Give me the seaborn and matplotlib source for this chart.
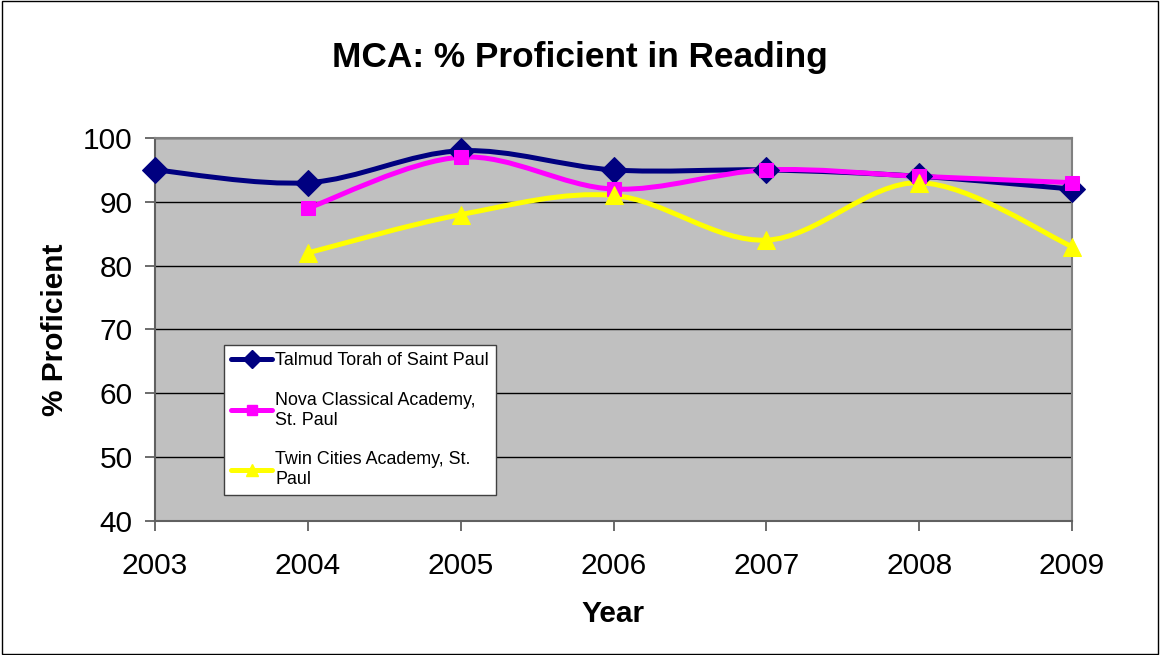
"""
MCA reading proficiency, three St. Paul schools (2003-2009)
Excel-style smoothed line chart redrawn with seaborn / matplotlib.
"""

import numpy as np
import pandas as pd
import matplotlib
matplotlib.use("Agg")
import matplotlib.pyplot as plt
import seaborn as sns
from matplotlib.path import Path
from matplotlib.patches import PathPatch, Rectangle
from matplotlib.lines import Line2D


# DATA

YEARS = [2003, 2004, 2005, 2006, 2007, 2008, 2009]

TALMUD = [95, 93, 98, 95, 95, 94, 92]
NOVA = [None, 89, 97, 92, 95, 94, 93]
TWIN = [None, 82, 88, 91, 84, 93, 83]

SCHOOLS = [
    "Talmud Torah of Saint Paul",
    "Nova Classical Academy, St. Paul",
    "Twin Cities Academy, St. Paul",
]
LEGEND_LABELS = [
    "Talmud Torah of Saint Paul",
    "Nova Classical Academy,\nSt. Paul",
    "Twin Cities Academy, St.\nPaul",
]

Y_TICKS = [40, 50, 60, 70, 80, 90, 100]


# STYLE

STYLES = {
    SCHOOLS[0]: {"color": "#000080", "marker": "D", "ms": 13},
    SCHOOLS[1]: {"color": "#FF00FF", "marker": "s", "ms": 9.5},
    SCHOOLS[2]: {"color": "#FFFF00", "marker": "^", "ms": 12.5},
}
LINE_W = 3.6

sns.set_style("white")
plt.rcParams["font.family"] = ["Liberation Sans", "DejaVu Sans"]
plt.rcParams["text.color"] = "black"
plt.rcParams["axes.labelcolor"] = "black"
plt.rcParams["xtick.color"] = "black"
plt.rcParams["ytick.color"] = "black"


def smooth_path(x, y):
    """Courbe lissée type Excel : Bézier cubique, tangentes à 1/6."""
    pts = np.column_stack([x, y]).astype(float)
    n = len(pts)
    verts = [pts[0]]
    codes = [Path.MOVETO]
    for i in range(n - 1):
        p0 = pts[i - 1] if i > 0 else pts[i]
        p1 = pts[i]
        p2 = pts[i + 1]
        p3 = pts[i + 2] if i + 2 < n else pts[i + 1]
        c1 = p1 + (p2 - p0) / 6.0
        c2 = p2 - (p3 - p1) / 6.0
        verts += [c1, c2, p2]
        codes += [Path.CURVE4] * 3
    return Path(verts, codes)


# long-form table for seaborn
df = pd.DataFrame({
    "Year": YEARS * 3,
    "Pct": TALMUD + NOVA + TWIN,
    "School": [s for s in SCHOOLS for _ in YEARS],
}).dropna()

fig = plt.figure(figsize=(11.6, 6.55), dpi=100)
ax = fig.add_axes([155 / 1160, 1 - 521 / 655, (1072 - 155) / 1160, (521 - 138) / 655])
ax.set_facecolor("#C0C0C0")

# lignes lissées
for school in SCHOOLS:
    sub = df[df["School"] == school]
    patch = PathPatch(smooth_path(sub["Year"].values, sub["Pct"].values),
                      facecolor="none", edgecolor=STYLES[school]["color"],
                      lw=LINE_W, capstyle="round", joinstyle="round", zorder=3)
    ax.add_patch(patch)

# marqueurs
for school in SCHOOLS:
    sub = df[df["School"] == school]
    st = STYLES[school]
    sns.lineplot(data=sub, x="Year", y="Pct", ax=ax, linestyle="none",
                 marker=st["marker"], markersize=st["ms"], color=st["color"],
                 markeredgecolor=st["color"], legend=False, zorder=4,
                 clip_on=False)

ax.set_xlim(2003, 2009)
ax.set_ylim(40, 100)
ax.set_xticks(YEARS)
ax.set_yticks(Y_TICKS)
ax.yaxis.grid(True, color="black", lw=1)
ax.set_axisbelow(True)

for side in ["top", "right"]:
    ax.spines[side].set_color("#808080")
    ax.spines[side].set_linewidth(1.5)
for side in ["left", "bottom"]:
    ax.spines[side].set_color("#606060")
    ax.spines[side].set_linewidth(1.5)

ax.tick_params(axis="both", direction="out", length=7, width=1.3,
               color="#606060", labelsize=21.5, left=True, bottom=True)
ax.tick_params(axis="y", pad=9)
ax.tick_params(axis="x", pad=15)

ax.set_xlabel("Year", fontsize=21.5, fontweight="bold", labelpad=15)
ax.set_ylabel("% Proficient", fontsize=21.5, fontweight="bold", labelpad=10)
fig.text(0.5, 1 - 57 / 655, "MCA: % Proficient in Reading", ha="center",
         va="center", fontsize=25.4, fontweight="bold")

# légende
handles = [
    Line2D([], [], color=STYLES[s]["color"], lw=LINE_W,
           marker=STYLES[s]["marker"], markersize=STYLES[s]["ms"] * 0.7,
           markeredgecolor=STYLES[s]["color"])
    for s in SCHOOLS
]
leg = fig.legend(handles, LEGEND_LABELS, loc="upper left",
                 bbox_to_anchor=(224 / 1160, 1 - 345 / 655),
                 fontsize=12.9, frameon=True, fancybox=False,
                 edgecolor="#404040", framealpha=1, borderpad=0.4,
                 labelspacing=1.27, handlelength=2.3, handletextpad=0.15,
                 borderaxespad=0)
leg.get_frame().set_linewidth(1)

# cadre extérieur
fig.patches.append(Rectangle((0.002, 0.002), 0.996, 0.996, transform=fig.transFigure,
                             fill=False, edgecolor="black", lw=1))

fig.savefig("out.png", dpi=100)
plt.close()
